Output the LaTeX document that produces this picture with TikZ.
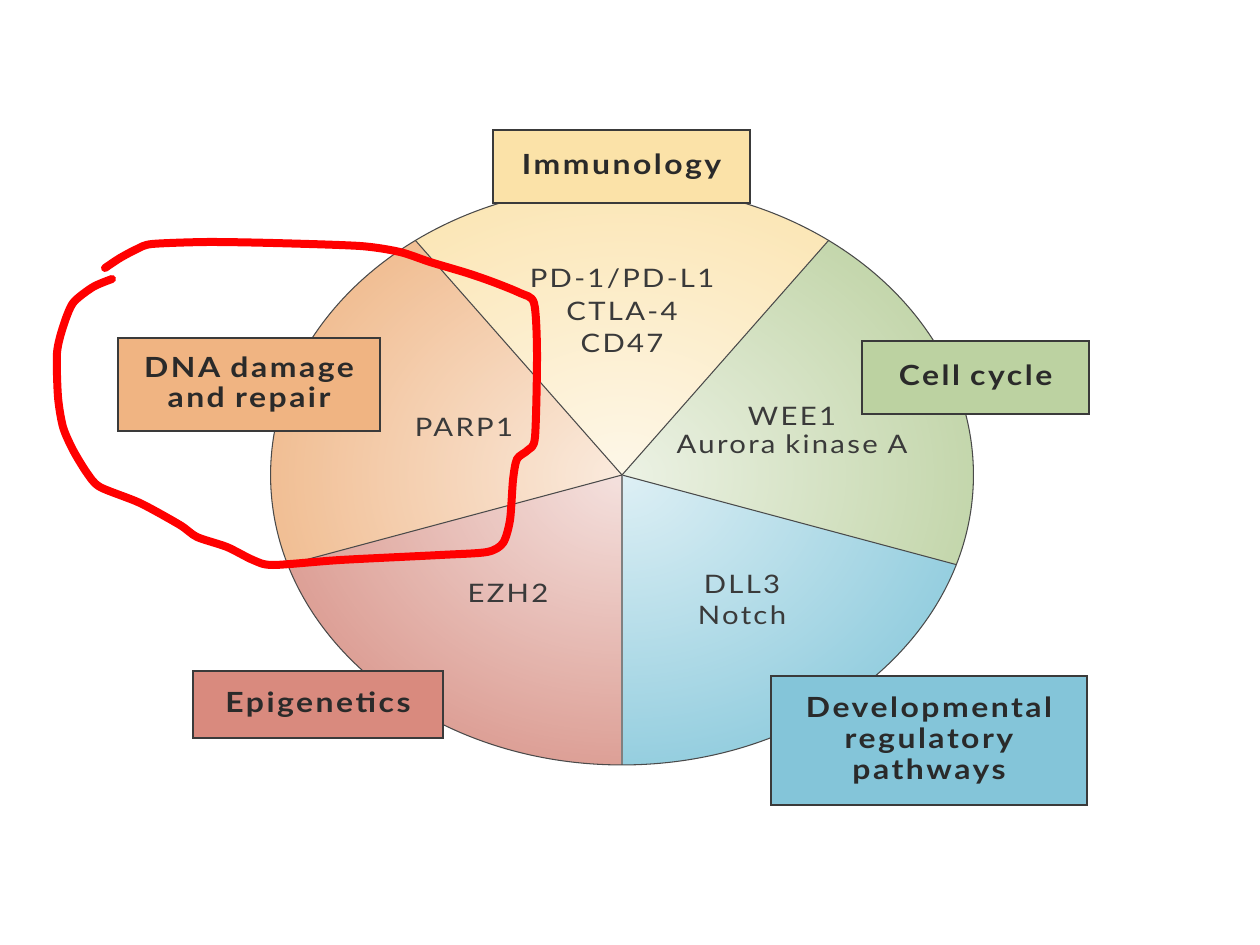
\documentclass[tikz,border=0pt]{standalone}
\usepackage{fontspec}
\setmainfont{Lato}
\newfontfamily\labfont[FakeStretch=1.15, LetterSpace=9]{Lato}
\usetikzlibrary{fadings}
\tikzfading[name=glowfade, inner color=transparent!0, outer color=transparent!100]
\definecolor{yel}{HTML}{FBE1A6}
\definecolor{org}{HTML}{EEAF7A}
\definecolor{grn}{HTML}{B6CD98}
\definecolor{blu}{HTML}{7CC3D8}
\definecolor{rd}{HTML}{D5897D}
\definecolor{yelbox}{HTML}{FBE2A8}
\definecolor{orgbox}{HTML}{F0B482}
\definecolor{grnbox}{HTML}{BCD2A1}
\definecolor{blubox}{HTML}{84C5D9}
\definecolor{rdbox}{HTML}{D98A7E}
\definecolor{edge}{HTML}{4A4A4A}
\definecolor{boxline}{HTML}{3A3A3A}
\definecolor{txt}{HTML}{2A2A2A}
\definecolor{txtb}{HTML}{3A3A3A}
\definecolor{loopred}{HTML}{FF0000}
\tikzset{
  box/.style={draw=boxline, line width=1.1pt, inner sep=0pt, align=center, text=txt,
    font=\labfont\bfseries\fontsize{15.8}{17.6}\selectfont},
  lbl/.style={inner sep=0pt, anchor=base, text=txtb, font=\labfont\fontsize{14.5}{17}\selectfont},
  divider/.style={draw=edge, line width=0.6pt},
  handloop/.style={draw=loopred, line width=0.16cm, line cap=round, line join=round},
  pie/.style={x radius=7.03cm, y radius=5.8cm}
}
\begin{document}
\begin{tikzpicture}[x=0.02cm,y=-0.02cm]
\useasboundingbox (0,0) rectangle (1260,945);
\coordinate (C) at (622,475);
% sectors
\fill[yel] (C) -- ++(126:7.03cm and 5.8cm) arc[pie, start angle=126, end angle=54] -- cycle;
\fill[grn] (C) -- ++(54:7.03cm and 5.8cm) arc[pie, start angle=54, end angle=-18] -- cycle;
\fill[blu] (C) -- ++(-18:7.03cm and 5.8cm) arc[pie, start angle=-18, end angle=-90] -- cycle;
\fill[rd] (C) -- ++(-90:7.03cm and 5.8cm) arc[pie, start angle=-90, end angle=-162] -- cycle;
\fill[org] (C) -- ++(198:7.03cm and 5.8cm) arc[pie, start angle=198, end angle=126] -- cycle;
% central glow
\begin{scope}
\clip (C) ellipse[pie];
\fill[white, path fading=glowfade, fill opacity=0.75] (C) ellipse[x radius=9.5cm, y radius=7.8cm];
\end{scope}
% dividers and outline
\draw[divider] (C) -- ++(126:7.03cm and 5.8cm);
\draw[divider] (C) -- ++(54:7.03cm and 5.8cm);
\draw[divider] (C) -- ++(-18:7.03cm and 5.8cm);
\draw[divider, draw=edge!70, line width=1pt] (C) -- ++(-90:7.03cm and 5.8cm);
\draw[divider] (C) -- ++(198:7.03cm and 5.8cm);
\draw[divider] (C) ellipse[pie];
% category boxes
\node[box, fill=yelbox, minimum width=5.14cm, minimum height=1.46cm] (imm) at (621.5,166.5) {Immunology};
\node[box, fill=grnbox, minimum width=4.54cm, minimum height=1.46cm] (cell) at (975.5,377.5) {Cell cycle};
\node[box, fill=blubox, minimum width=6.32cm, minimum height=2.58cm] (dev) at (929,740.5) {Developmental\\regulatory\\pathways};
\node[box, fill=rdbox, minimum width=5.0cm, minimum height=1.34cm] (epi) at (318,704.5) {Epigenetics};
\node[box, fill=orgbox, minimum width=5.24cm, minimum height=1.86cm] (dna) at (249,384.5) {DNA damage\\and repair};
% sector labels
\node[lbl] (pd) at (622,288) {PD-1/PD-L1};
\node[lbl] (ctla) at (622,321) {CTLA-4};
\node[lbl] (cd) at (622,353) {CD47};
\node[lbl] (wee) at (792,425) {WEE1};
\node[lbl] (aur) at (792,454) {Aurora kinase A};
\node[lbl] (parp) at (464,437) {PARP1};
\node[lbl] (ezh) at (508,602) {EZH2};
\node[lbl] (dll) at (742,593) {DLL3};
\node[lbl] (notch) at (742,624) {Notch};
% hand-drawn red loop
\draw[handloop] plot[smooth, tension=0.45] coordinates {
 (105,268) (120,258) (137,249) (152,244) (207,242) (273,243) (360,246) (400,252)
 (430,262) (467,273) (493,282) (520,293) (534,303) (537,353) (535,437) (528,450)
 (517,459) (513,480) (510,520) (503,543) (487,552) (440,555) (340,560) (273,565)
 (253,560) (227,547) (197,537) (180,525) (140,503) (100,487) (87,473) (73,450)
 (63,427) (58,397) (57,353) (63,327) (73,303) (93,287) (112,279)};
\end{tikzpicture}
\end{document}
